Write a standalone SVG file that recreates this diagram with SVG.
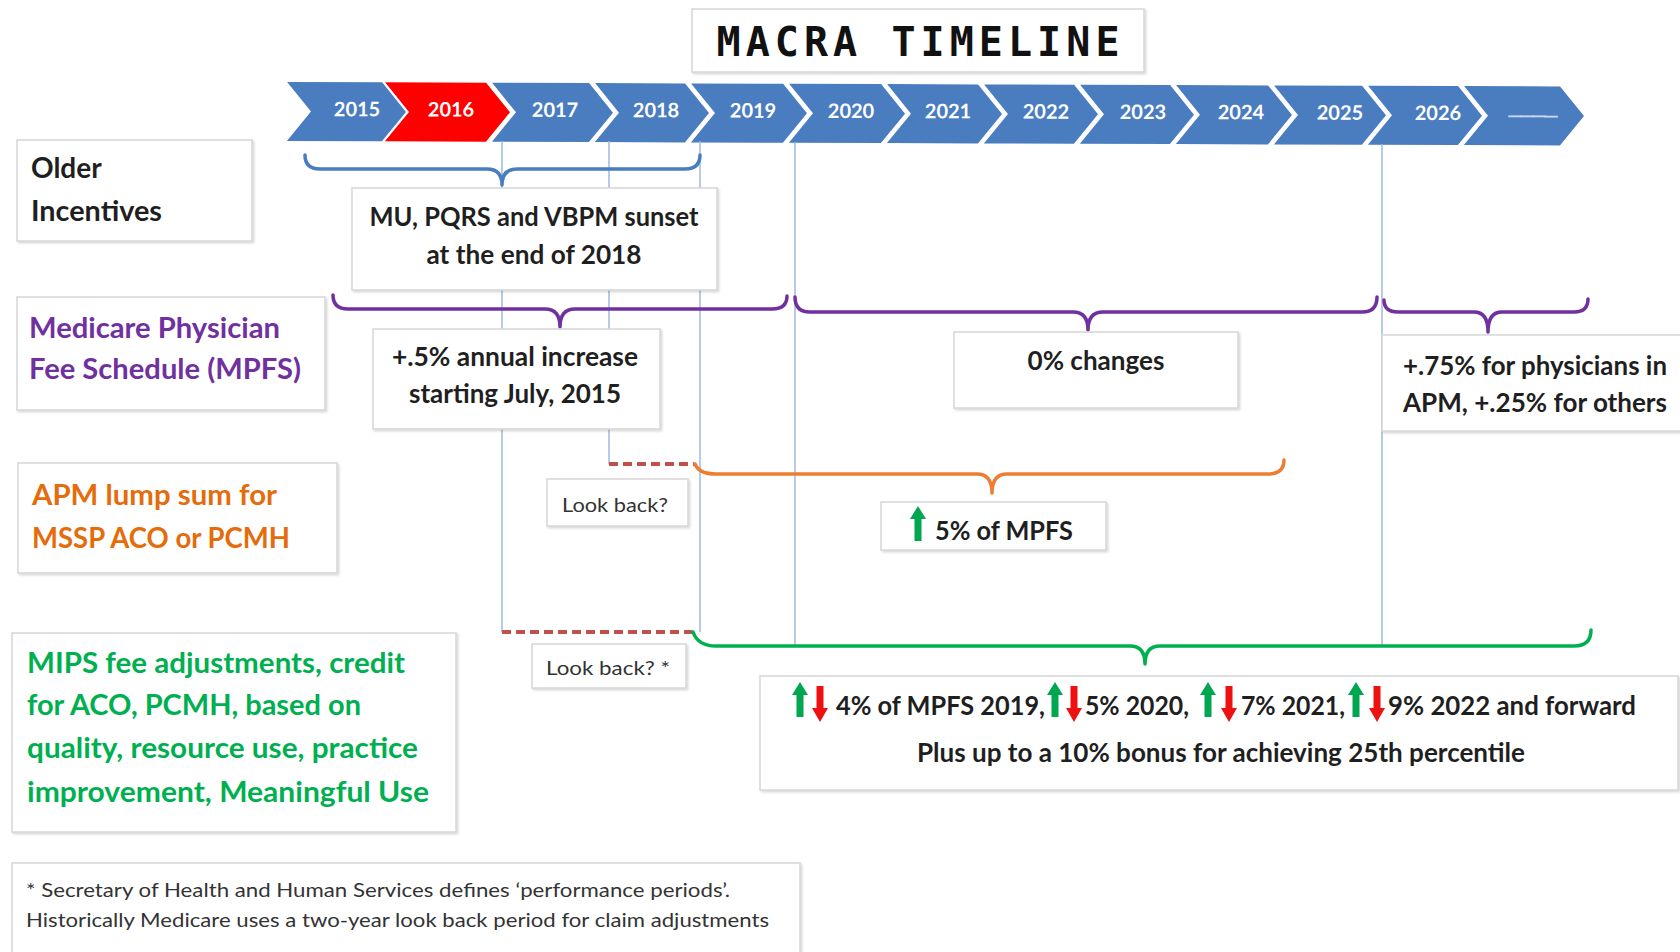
<svg xmlns="http://www.w3.org/2000/svg" xmlns:xlink="http://www.w3.org/1999/xlink" width="1680" height="952" viewBox="0 0 1680 952">
  <defs>
    <filter id="sh" x="-5%" y="-5%" width="110%" height="115%">
      <feDropShadow dx="1.5" dy="1.5" stdDeviation="1.2" flood-color="#000" flood-opacity="0.16"/>
    </filter>
    <!-- block arrows, origin at top centre -->
    <path id="arrowUp" d="M0,0 L8,13 L3.5,13 L3.5,35 L-3.5,35 L-3.5,13 L-8,13 Z" fill="#00a650"/>
    <path id="arrowDown" d="M-3.5,0 L3.5,0 L3.5,22 L8,22 L0,36 L-8,22 L-3.5,22 Z" fill="#ee1111"/>
    <style>
      .box { fill: #fff; stroke: #d6d6d6; stroke-width: 1.5; filter: url(#sh); }
      .t { font-family: Lato, "Liberation Sans", sans-serif; font-weight: 700; font-size: 26px; fill: #1f1f1f; }
      .row { font-family: Lato, "Liberation Sans", sans-serif; font-weight: 700; font-size: 28px; }
      .small { font-family: Lato, "Liberation Sans", sans-serif; font-weight: 400; font-size: 19px; fill: #333; }
      .year { font-family: Lato, "Liberation Sans", sans-serif; font-weight: 700; font-size: 20px; fill: #fff; text-anchor: middle; }
      .chev { fill: #4a7cc0; }
      .vline { stroke: #9fb9e0; stroke-width: 1.5; fill: none; }
      .dash { stroke: #c0504d; stroke-width: 4; stroke-dasharray: 9 5; fill: none; }
      .brace { fill: none; stroke-width: 3.5; stroke-linecap: round; stroke-linejoin: round; }
      .mid { text-anchor: middle; }
    </style>
  </defs>

  <rect width="1680" height="952" fill="#fff"/>

  <!-- title -->
  <g id="title">
    <rect class="box" x="692" y="9" width="452" height="63"/>
    <text x="918" y="56" text-anchor="middle" textLength="403" lengthAdjust="spacing" font-family="'DejaVu Sans Mono', 'Liberation Mono', monospace" font-weight="700" font-size="40" fill="#111">MACRA TIMELINE</text>
  </g>

  <!-- year chevrons -->
  <g id="timeline" transform="rotate(0.2 287 111)">
    <polygon class="chev" points="287,82 382,82 406,111.5 382,141 287,141 311,111.5"/>
    <polygon fill="#ff0000" points="385,82 486,82 510,111.5 486,141 385,141 409,111.5"/>
    <polygon class="chev" points="492,82 589,82 613,111.5 589,141 492,141 516,111.5"/>
    <polygon class="chev" points="595,82 685,82 709,111.5 685,141 595,141 619,111.5"/>
    <polygon class="chev" points="691,82 783,82 807,111.5 783,141 691,141 715,111.5"/>
    <polygon class="chev" points="789,82 881,82 905,111.5 881,141 789,141 813,111.5"/>
    <polygon class="chev" points="887,82 978,82 1002,111.5 978,141 887,141 911,111.5"/>
    <polygon class="chev" points="984,82 1074,82 1098,111.5 1074,141 984,141 1008,111.5"/>
    <polygon class="chev" points="1080,82 1170,82 1194,111.5 1170,141 1080,141 1104,111.5"/>
    <polygon class="chev" points="1176,82 1268,82 1292,111.5 1268,141 1176,141 1200,111.5"/>
    <polygon class="chev" points="1274,82 1362,82 1386,111.5 1362,141 1274,141 1298,111.5"/>
    <polygon class="chev" points="1368,82 1458,82 1482,111.5 1458,141 1368,141 1392,111.5"/>
    <polygon class="chev" points="1464,82 1560,82 1584,111.5 1560,141 1464,141 1488,111.5"/>
    <text class="year" x="357" y="116">2015</text>
    <text class="year" x="451" y="116">2016</text>
    <text class="year" x="555" y="116">2017</text>
    <text class="year" x="656" y="116">2018</text>
    <text class="year" x="753" y="116">2019</text>
    <text class="year" x="851" y="116">2020</text>
    <text class="year" x="948" y="116">2021</text>
    <text class="year" x="1046" y="116">2022</text>
    <text class="year" x="1143" y="116">2023</text>
    <text class="year" x="1241" y="116">2024</text>
    <text class="year" x="1340" y="116">2025</text>
    <text class="year" x="1438" y="116">2026</text>
    <text class="year" x="1531" y="118" font-size="19" letter-spacing="-4" style="fill:#c9d7ef">————</text>
  </g>

  <!-- connectors: guide lines, look-back dashes and braces -->
  <g id="connectors">
    <path class="vline" d="M502,141 V632"/>
    <path class="vline" d="M609,141 V464"/>
    <path class="vline" d="M700,141 V632"/>
    <path class="vline" d="M795,142 V646"/>
    <path class="vline" d="M1382,144 V646"/>

    <path class="dash" d="M609,464 H694"/>
    <path class="dash" d="M502,632 H692"/>

    <path class="brace" stroke="#4a7cc0" d="M305,155 Q305,169 320,169 L487,169 Q502,169 502,185 Q502,169 517,169 L685,169 Q700,169 700,155"/>
    <path class="brace" stroke="#7030a0" d="M333,295 Q333,309 348,309 L545,309 Q560,309 560,327 Q560,309 575,309 L772,309 Q787,309 787,296"/>
    <path class="brace" stroke="#7030a0" d="M795,297 Q795,312 810,312 L1073,312 Q1088,312 1088,330 Q1088,312 1103,312 L1362,312 Q1377,312 1377,297"/>
    <path class="brace" stroke="#7030a0" d="M1384,300 Q1384,312 1398,312 L1474,312 Q1488,312 1488,332 Q1488,312 1502,312 L1574,312 Q1588,312 1588,299"/>
    <path class="brace" stroke="#ed7d31" d="M695,464 Q699,474 716,474 L977,474 Q992,474 992,493 Q992,474 1007,474 L1268,474 Q1284,474 1284,460"/>
    <path class="brace" stroke="#00b050" d="M693,632 Q698,646 716,646 L1130,646 Q1145,646 1145,664 Q1145,646 1160,646 L1574,646 Q1591,646 1591,630"/>
  </g>

  <!-- row headings -->
  <g id="older-incentives">
    <rect class="box" x="17" y="140" width="235" height="101"/>
    <text class="row" x="31" y="178" fill="#1f1f1f">Older</text>
    <text class="row" x="31" y="221" fill="#1f1f1f" textLength="131" lengthAdjust="spacingAndGlyphs">Incentives</text>
  </g>

  <g id="mpfs">
    <rect class="box" x="17" y="297" width="308" height="113"/>
    <text class="row" x="29" y="338" fill="#7030a0" textLength="251" lengthAdjust="spacingAndGlyphs">Medicare Physician</text>
    <text class="row" x="29" y="379" fill="#7030a0" textLength="272" lengthAdjust="spacingAndGlyphs">Fee Schedule (MPFS)</text>
  </g>

  <g id="apm">
    <rect class="box" x="18" y="463" width="319" height="110"/>
    <text class="row" x="32" y="505" fill="#e46c0a" textLength="245" lengthAdjust="spacingAndGlyphs">APM lump sum for</text>
    <text class="row" x="32" y="548" fill="#e46c0a" textLength="258" lengthAdjust="spacingAndGlyphs">MSSP ACO or PCMH</text>
  </g>

  <g id="mips">
    <rect class="box" x="12" y="633" width="444" height="199"/>
    <text class="row" x="27" y="673" fill="#00b050" textLength="378" lengthAdjust="spacingAndGlyphs">MIPS fee adjustments,  credit</text>
    <text class="row" x="27" y="715" fill="#00b050" textLength="334" lengthAdjust="spacingAndGlyphs">for ACO, PCMH, based on</text>
    <text class="row" x="27" y="758" fill="#00b050" textLength="391" lengthAdjust="spacingAndGlyphs">quality,  resource  use,  practice</text>
    <text class="row" x="27" y="802" fill="#00b050" textLength="402" lengthAdjust="spacingAndGlyphs">improvement,  Meaningful  Use</text>
  </g>

  <g id="footnote">
    <rect class="box" x="12" y="863" width="788" height="90"/>
    <text class="small" x="26" y="897" textLength="704" lengthAdjust="spacingAndGlyphs">* Secretary of Health and Human Services defines ‘performance periods’.</text>
    <text class="small" x="26" y="927" textLength="743" lengthAdjust="spacingAndGlyphs">Historically Medicare uses a two-year look back period for claim adjustments</text>
  </g>

  <!-- timeline notes -->
  <g id="sunset">
    <rect class="box" x="352" y="188" width="365" height="102"/>
    <text class="t mid" x="534" y="226" textLength="329" lengthAdjust="spacingAndGlyphs">MU, PQRS and VBPM sunset</text>
    <text class="t mid" x="534" y="264" textLength="215" lengthAdjust="spacingAndGlyphs">at the end of 2018</text>
  </g>

  <g id="mpfs-increase">
    <rect class="box" x="373" y="329" width="287" height="100"/>
    <text class="t mid" x="515" y="366" textLength="246" lengthAdjust="spacingAndGlyphs">+.5% annual increase</text>
    <text class="t mid" x="515" y="403" textLength="212" lengthAdjust="spacingAndGlyphs">starting July, 2015</text>
  </g>

  <g id="mpfs-zero">
    <rect class="box" x="954" y="332" width="284" height="76"/>
    <text class="t mid" x="1096" y="370" textLength="137" lengthAdjust="spacingAndGlyphs">0% changes</text>
  </g>

  <g id="mpfs-apm">
    <rect class="box" x="1382" y="335" width="310" height="96"/>
    <text class="t" x="1403" y="375" textLength="264" lengthAdjust="spacingAndGlyphs">+.75% for physicians in</text>
    <text class="t" x="1403" y="412" textLength="264" lengthAdjust="spacingAndGlyphs">APM, +.25% for others</text>
  </g>

  <g id="lookback-apm">
    <rect class="box" x="547" y="479" width="141" height="47"/>
    <text class="small mid" x="615" y="512" textLength="106" lengthAdjust="spacingAndGlyphs">Look back?</text>
  </g>

  <g id="lookback-mips">
    <rect class="box" x="532" y="644" width="154" height="44"/>
    <text class="small mid" x="608" y="675" textLength="124" lengthAdjust="spacingAndGlyphs">Look back? *</text>
  </g>

  <g id="apm-bonus">
    <rect class="box" x="881" y="502" width="225" height="48"/>
    <use xlink:href="#arrowUp" href="#arrowUp" x="918" y="506"/>
    <text class="t" x="935" y="540" textLength="138" lengthAdjust="spacingAndGlyphs">5% of MPFS</text>
  </g>

  <g id="mips-adjustments">
    <rect class="box" x="760" y="676" width="918" height="114"/>
    <use xlink:href="#arrowUp" href="#arrowUp" x="800" y="682"/>
    <use xlink:href="#arrowDown" href="#arrowDown" x="820" y="686"/>
    <text class="t" x="836" y="715" textLength="209" lengthAdjust="spacingAndGlyphs">4% of MPFS 2019,</text>
    <use xlink:href="#arrowUp" href="#arrowUp" x="1055" y="682"/>
    <use xlink:href="#arrowDown" href="#arrowDown" x="1074" y="686"/>
    <text class="t" x="1085" y="715" textLength="104" lengthAdjust="spacingAndGlyphs">5% 2020,</text>
    <use xlink:href="#arrowUp" href="#arrowUp" x="1208" y="682"/>
    <use xlink:href="#arrowDown" href="#arrowDown" x="1229" y="686"/>
    <text class="t" x="1241" y="715" textLength="104" lengthAdjust="spacingAndGlyphs">7% 2021,</text>
    <use xlink:href="#arrowUp" href="#arrowUp" x="1356" y="682"/>
    <use xlink:href="#arrowDown" href="#arrowDown" x="1377" y="686"/>
    <text class="t" x="1388" y="715" textLength="248" lengthAdjust="spacingAndGlyphs">9% 2022 and forward</text>
    <text class="t mid" x="1221" y="762" textLength="608" lengthAdjust="spacingAndGlyphs">Plus up to a 10% bonus for achieving 25th percentile</text>
  </g>
</svg>
